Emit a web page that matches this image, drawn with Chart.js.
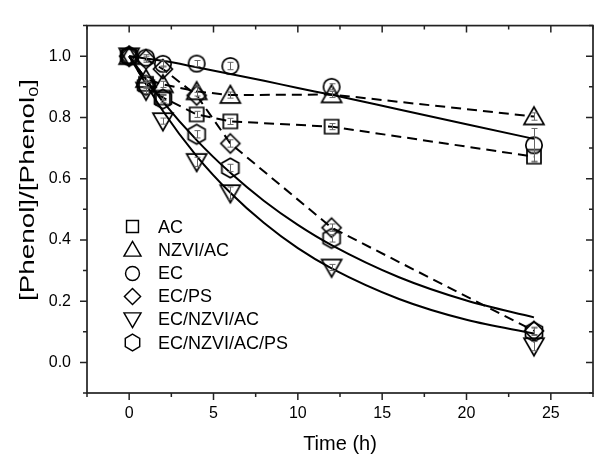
<!DOCTYPE html>
<html>
<head>
<meta charset="utf-8">
<script src="https://cdn.jsdelivr.net/npm/chart.js@4.4.1/dist/chart.umd.min.js"></script>
<style>
html,body{margin:0;padding:0;background:#fff;}
#wrap{width:604px;height:459px;position:relative;}
</style>
</head>
<body>
<div id="wrap"><canvas id="c" width="604" height="459"></canvas></div>
<script>
// ---- data ----
const times = [0, 1, 2, 4, 6, 12, 24];
const seriesNames = ['AC', 'NZVI/AC', 'EC', 'EC/PS', 'EC/NZVI/AC', 'EC/NZVI/AC/PS'];
const acVals        = [1.0, 0.91, 0.865, 0.81, 0.787, 0.77, 0.672];
const nzviAcVals    = [1.0, 0.925, 0.908, 0.885, 0.873, 0.875, 0.803];
const ecVals        = [1.0, 0.995, 0.975, 0.976, 0.968, 0.90, 0.709];
const ecPsVals      = [1.0, 0.99, 0.958, 0.872, 0.715, 0.44, 0.103];
const ecNzviAcVals  = [1.0, 0.888, 0.788, 0.655, 0.553, 0.31, 0.053];
const ecNzviAcPsVals= [1.0, 0.905, 0.86, 0.745, 0.635, 0.405, 0.10];
// error bar half-widths
const acErr        = [0, 0.01, 0.01, 0.01, 0.01, 0.01, 0.015];
const nzviAcErr    = [0, 0.01, 0.01, 0.015, 0.01, 0.01, 0.012];
const ecErr        = [0, 0.01, 0.01, 0.01, 0.012, 0.01, 0.055];
const ecPsErr      = [0, 0.01, 0.01, 0.01, 0.012, 0.012, 0.012];
const ecNzviAcErr  = [0, 0.01, 0.01, 0.015, 0.02, 0.01, 0.015];
const ecNzviAcPsErr= [0, 0.01, 0.012, 0.012, 0.012, 0.012, 0.012];
// fitted curves
const fitTimes        = [0, 2, 4, 6, 8, 10, 12, 16, 20, 24];
const ecFit           = [1.0, 0.985, 0.964, 0.942, 0.92, 0.896, 0.874, 0.826, 0.778, 0.73];
const ecNzviAcFit     = [1.0, 0.821, 0.674, 0.554, 0.455, 0.373, 0.307, 0.207, 0.139, 0.094];
const ecNzviAcPsFit   = [1.0, 0.852, 0.726, 0.619, 0.527, 0.449, 0.383, 0.278, 0.202, 0.147];
// ticks
const xTickVals = [0, 5, 10, 15, 20, 25];
const yTickVals = [0.0, 0.2, 0.4, 0.6, 0.8, 1.0];
const xTitle = 'Time (h)';
const yTitleMain = '[Phenol]/[Phenol';
const yTitleSub = '0';
const yTitleEnd = ']';

const FONT = "'Liberation Sans', Arial, Helvetica, sans-serif";

// ---- marker images ----
function makeMarker(kind, scale) {
  scale = scale || 1;
  const S = Math.ceil(26 * scale);
  const cv = document.createElement('canvas');
  cv.width = S; cv.height = S;
  const g = cv.getContext('2d');
  g.translate(S / 2, S / 2);
  g.scale(scale, scale);
  g.strokeStyle = '#000';
  g.lineWidth = 1.7;
  g.beginPath();
  if (kind === 'square') {
    g.rect(-7, -7, 14, 14);
  } else if (kind === 'tri') {
    g.moveTo(0, -9.5); g.lineTo(10, 7.8); g.lineTo(-10, 7.8); g.closePath();
  } else if (kind === 'circle') {
    g.arc(0, 0, 8.2, 0, Math.PI * 2);
  } else if (kind === 'diamond') {
    g.moveTo(0, -9.5); g.lineTo(9.5, 0); g.lineTo(0, 9.5); g.lineTo(-9.5, 0); g.closePath();
  } else if (kind === 'dtri') {
    g.moveTo(0, 9.5); g.lineTo(10, -7.8); g.lineTo(-10, -7.8); g.closePath();
  } else if (kind === 'hex') {
    for (let i = 0; i < 6; i++) {
      const a = -Math.PI / 2 + i * Math.PI / 3;
      const px = 9.8 * Math.cos(a), py = 9.8 * Math.sin(a);
      if (i === 0) g.moveTo(px, py); else g.lineTo(px, py);
    }
    g.closePath();
  }
  g.stroke();
  return cv;
}
const kinds = ['square', 'tri', 'circle', 'diamond', 'dtri', 'hex'];
const markers = kinds.map(k => makeMarker(k, 1));
const legendMarkers = kinds.map(k => makeMarker(k, 0.85));

function pts(xs, ys) { return xs.map((x, i) => ({ x: x, y: ys[i] })); }

const markerVals = [acVals, nzviAcVals, ecVals, ecPsVals, ecNzviAcVals, ecNzviAcPsVals];
const markerErrs = [acErr, nzviAcErr, ecErr, ecPsErr, ecNzviAcErr, ecNzviAcPsErr];
const dashedIdx = [0, 1, 3];

const datasets = [];
// fit curves
[ecFit, ecNzviAcFit, ecNzviAcPsFit].forEach(f => {
  datasets.push({
    data: pts(fitTimes, f), showLine: true, borderColor: '#000', borderWidth: 2,
    pointRadius: 0, cubicInterpolationMode: 'monotone', fill: false
  });
});
// marker series
markerVals.forEach((vals, i) => {
  const dashed = dashedIdx.indexOf(i) >= 0;
  datasets.push({
    label: seriesNames[i],
    data: pts(times, vals),
    showLine: dashed,
    borderColor: '#000',
    borderWidth: 2,
    borderDash: dashed ? [10, 6] : [],
    pointStyle: markers[i],
    pointRadius: 9,
    backgroundColor: 'rgba(0,0,0,0)',
    errors: markerErrs[i],
    clip: false
  });
});

// ---- plugins ----
const errorBars = {
  id: 'errorBars',
  afterDatasetsDraw(chart) {
    const ctx = chart.ctx, xs = chart.scales.x, ys = chart.scales.y;
    ctx.save();
    ctx.strokeStyle = '#666';
    ctx.lineWidth = 1;
    chart.data.datasets.forEach(ds => {
      if (!ds.errors) return;
      ds.data.forEach((p, i) => {
        const e = ds.errors[i];
        if (!e) return;
        const px = Math.round(xs.getPixelForValue(p.x)) + 0.5;
        const y1 = ys.getPixelForValue(p.y + e);
        const y2 = ys.getPixelForValue(p.y - e);
        ctx.beginPath();
        ctx.moveTo(px, y1); ctx.lineTo(px, y2);
        ctx.moveTo(px - 3, y1); ctx.lineTo(px + 3, y1);
        ctx.moveTo(px - 3, y2); ctx.lineTo(px + 3, y2);
        ctx.stroke();
      });
    });
    ctx.restore();
  }
};

const frameTicks = {
  id: 'frameTicks',
  afterDraw(chart) {
    const ctx = chart.ctx, a = chart.chartArea;
    const xs = chart.scales.x, ys = chart.scales.y;
    ctx.save();
    ctx.strokeStyle = '#222';
    ctx.lineWidth = 1.7;
    ctx.strokeRect(a.left, a.top, a.right - a.left, a.bottom - a.top);
    ctx.lineWidth = 1.5;
    ctx.beginPath();
    for (let v = xs.min; v <= xs.max + 1e-9; v += 2.5) {
      const major = Math.abs(v / 5 - Math.round(v / 5)) < 1e-6;
      const L = major ? 7 : 4;
      const px = xs.getPixelForValue(v);
      ctx.moveTo(px, a.bottom); ctx.lineTo(px, a.bottom + L);   // bottom outward
      ctx.moveTo(px, a.top); ctx.lineTo(px, a.top + L);         // top inward
    }
    for (let v = ys.min; v <= ys.max + 1e-9; v += 0.1) {
      const major = Math.abs(v / 0.2 - Math.round(v / 0.2)) < 1e-6;
      const L = major ? 7 : 4;
      const py = ys.getPixelForValue(v);
      ctx.moveTo(a.left, py); ctx.lineTo(a.left - L, py);       // left outward
      ctx.moveTo(a.right, py); ctx.lineTo(a.right - L, py);     // right inward
    }
    ctx.stroke();

    // axis titles
    ctx.fillStyle = '#000';
    ctx.font = '20px ' + FONT;
    ctx.textAlign = 'center';
    ctx.textBaseline = 'alphabetic';
    ctx.fillText(xTitle, (a.left + a.right) / 2, 450);

    // y title with subscript
    const mainF = '20px ' + FONT, subF = '13px ' + FONT;
    ctx.font = mainF;
    const w1 = ctx.measureText(yTitleMain).width;
    const w3 = ctx.measureText(yTitleEnd).width;
    ctx.font = subF;
    const w2 = ctx.measureText(yTitleSub).width;
    const W = w1 + w2 + w3;
    const target = 222;
    const sx = target / W;
    ctx.translate(34, 190);
    ctx.rotate(-Math.PI / 2);
    ctx.scale(sx, 1);
    ctx.textAlign = 'left';
    ctx.font = mainF;
    ctx.fillText(yTitleMain, -W / 2, 0);
    ctx.font = subF;
    ctx.fillText(yTitleSub, -W / 2 + w1, 4);
    ctx.font = mainF;
    ctx.fillText(yTitleEnd, -W / 2 + w1 + w2, 0);
    ctx.restore();

    // legend
    ctx.save();
    ctx.fillStyle = '#000';
    ctx.font = '18px ' + FONT;
    ctx.textAlign = 'left';
    ctx.textBaseline = 'middle';
    seriesNames.forEach((name, i) => {
      const y = 226.7 + i * 23.2;
      const m = legendMarkers[i];
      ctx.drawImage(m, Math.round(132 - m.width / 2), Math.round(y - m.height / 2));
      ctx.fillText(name, 158, y + 1);
    });
    ctx.restore();
  }
};

Chart.defaults.font.family = FONT;
Chart.defaults.color = '#000';

new Chart(document.getElementById('c'), {
  type: 'scatter',
  data: { datasets: datasets },
  options: {
    responsive: false,
    animation: false,
    layout: { padding: { top: 12, right: 1, left: 0, bottom: 0 } },
    plugins: { legend: { display: false }, tooltip: { enabled: false } },
    scales: {
      x: {
        type: 'linear', min: -2.5, max: 27.5,
        grid: { display: false, drawTicks: false },
        border: { display: false },
        ticks: { font: { size: 16 }, color: '#000', padding: 11, maxRotation: 0 },
        afterBuildTicks: s => { s.ticks = xTickVals.map(v => ({ value: v })); },
        afterFit: s => { s.height = 66; }
      },
      y: {
        type: 'linear', min: -0.1, max: 1.1,
        grid: { display: false, drawTicks: false },
        border: { display: false },
        ticks: { font: { size: 16 }, color: '#000', padding: 16, callback: v => Number(v).toFixed(1) },
        afterBuildTicks: s => { s.ticks = yTickVals.map(v => ({ value: v })); },
        afterFit: s => { s.width = 87; }
      }
    }
  },
  plugins: [errorBars, frameTicks]
});
</script>
</body>
</html>
